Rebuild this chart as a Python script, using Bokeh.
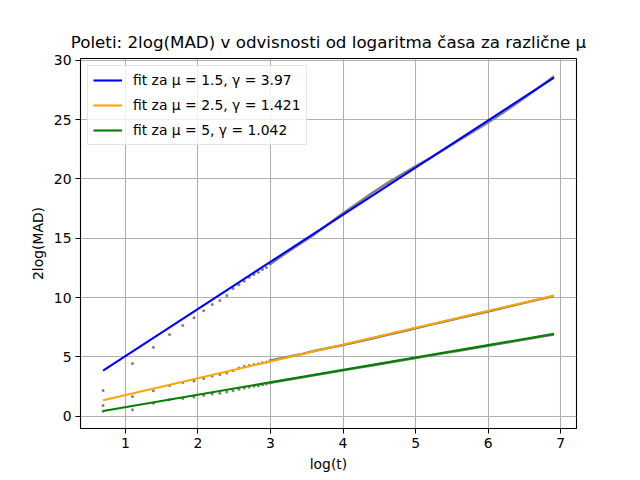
import numpy as np
from bokeh.plotting import figure
from bokeh.models import Range1d, FixedTicker
from bokeh.embed import file_html
from bokeh.resources import INLINE

# posamezne tocke za majhne case t = 2..20
t_early = list(range(2, 21))
mad_15_early = [2.17, 4.44, 5.81, 6.88, 7.64, 8.31, 8.90, 9.41, 9.75, 10.17,
                10.76, 11.09, 11.37, 11.71, 11.94, 12.13, 12.36, 12.53, 12.83]
mad_25_early = [0.90, 1.66, 2.16, 2.59, 2.84, 2.98, 3.18, 3.40, 3.52, 3.65,
                3.85, 4.07, 4.22, 4.27, 4.36, 4.42, 4.50, 4.58, 4.70]
mad_5_early = [0.42, 0.56, 1.10, 1.41, 1.49, 1.62, 1.77, 1.88, 1.95, 2.05,
               2.15, 2.28, 2.39, 2.45, 2.52, 2.58, 2.66, 2.72, 2.80]

# gosti del (t > 20), odcitan s slike
log_t_dense = [3.0, 3.2, 3.4, 3.6, 3.8, 4.0, 4.2, 4.4, 4.6, 4.8, 5.0,
               5.2, 5.4, 5.6, 5.8, 6.0, 6.2, 6.4, 6.6, 6.8, 6.908]
mad_15_dense = [12.83, 13.7, 14.5, 15.3, 16.2, 17.1, 17.95, 18.8, 19.6, 20.35, 21.05,
                21.75, 22.5, 23.25, 24.0, 24.75, 25.55, 26.4, 27.25, 28.15, 28.65]
mad_25_dense = [4.7, 4.95, 5.2, 5.5, 5.75, 6.0, 6.28, 6.55, 6.85, 7.12, 7.4,
                7.7, 7.98, 8.27, 8.55, 8.83, 9.12, 9.4, 9.7, 9.98, 10.12]
mad_5_dense = [2.82, 3.03, 3.24, 3.45, 3.66, 3.87, 4.08, 4.28, 4.49, 4.7, 4.9,
               5.11, 5.32, 5.52, 5.73, 5.94, 6.14, 6.35, 6.56, 6.77, 6.88]

# fit premice
fit_log_t = [0.693, 6.908]
fit_15 = [3.85, 28.52]
fit_25 = [1.35, 10.17]
fit_5 = [0.45, 6.94]

labels = ["fit za μ = 1.5, γ = 3.97", "fit za μ = 2.5, γ = 1.421", "fit za μ = 5, γ = 1.042"]
colors = ["blue", "orange", "green"]

FONT = "DejaVu Sans"

p = figure(frame_width=496, frame_height=370, output_backend="svg", toolbar_location=None,
           x_range=Range1d(0.382, 7.218), y_range=Range1d(-1.03, 30.14),
           title="Poleti: 2log(MAD) v odvisnosti od logaritma časa za različne μ",
           min_border_left=80, min_border_right=56, min_border_top=58, min_border_bottom=40)

x_early = np.log(t_early)
for early, dense in [(mad_15_early, mad_15_dense), (mad_25_early, mad_25_dense), (mad_5_early, mad_5_dense)]:
    p.scatter(x_early, early, size=3, color="gray", line_color=None)
    p.line(log_t_dense, dense, color="gray", line_width=2.4)

for fit, lab, col in zip([fit_15, fit_25, fit_5], labels, colors):
    p.line(fit_log_t, fit, color=col, line_width=2.1, legend_label=lab)

p.xaxis.ticker = FixedTicker(ticks=[1, 2, 3, 4, 5, 6, 7])
p.yaxis.ticker = FixedTicker(ticks=[0, 5, 10, 15, 20, 25, 30])
p.xaxis.axis_label = "log(t)"
p.yaxis.axis_label = "2log(MAD)"
for ax in [p.xaxis, p.yaxis]:
    ax.axis_label_text_font_style = "normal"
    ax.axis_label_text_font = FONT
    ax.axis_label_text_font_size = "13.9px"
    ax.axis_label_text_color = "black"
    ax.major_label_text_font = FONT
    ax.major_label_text_font_size = "13.9px"
    ax.major_label_text_color = "black"
    ax.axis_line_color = "black"
    ax.major_tick_line_color = "black"
    ax.major_tick_out = 5
    ax.major_tick_in = 0
    ax.minor_tick_out = 0
    ax.minor_tick_in = 0
    ax.major_label_standoff = 4
    ax.axis_label_standoff = 5

p.grid.grid_line_color = "#b0b0b0"
p.grid.grid_line_width = 1.1
p.outline_line_color = "black"
p.outline_line_alpha = 1.0
p.outline_line_width = 1.1

p.title.text_font = FONT
p.title.text_font_size = "16.7px"
p.title.text_font_style = "normal"
p.title.text_color = "black"
p.title.align = "center"
p.title.standoff = 13

p.legend.location = "top_left"
p.legend.margin = 7
p.legend.padding = 5
p.legend.spacing = 7
p.legend.label_height = 18
p.legend.glyph_height = 18
p.legend.glyph_width = 29
p.legend.label_standoff = 11
p.legend.label_text_font = FONT
p.legend.label_text_font_size = "13.9px"
p.legend.label_text_color = "black"
p.legend.border_line_color = "#cccccc"
p.legend.background_fill_alpha = 0.8

open("out.html", "w").write(file_html(p, INLINE))
